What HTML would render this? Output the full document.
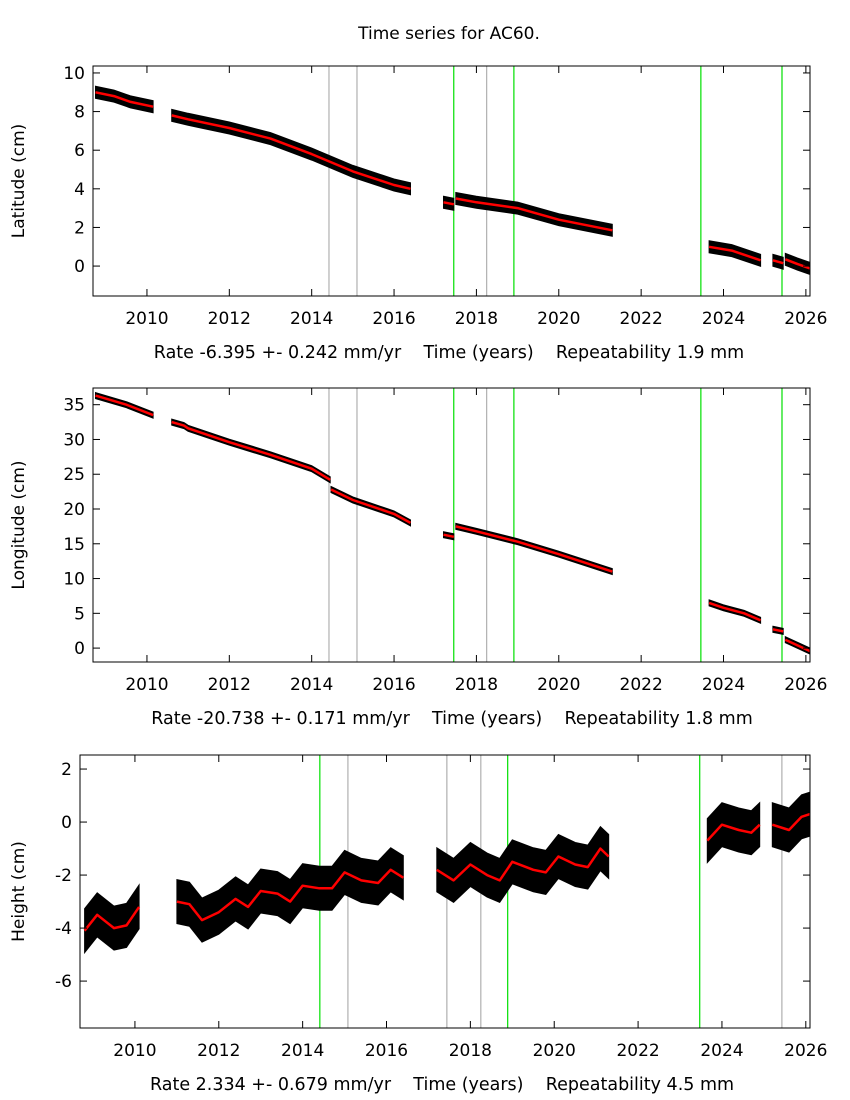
<!DOCTYPE html>
<html><head><meta charset="utf-8"><style>
body{margin:0;background:#fff;}
svg{display:block;font-family:"DejaVu Sans","Liberation Sans",sans-serif;}
</style></head><body>
<svg id="chart" width="850" height="1100" viewBox="0 0 850 1100" xmlns="http://www.w3.org/2000/svg">
<text x="449" y="39" font-size="17" text-anchor="middle">Time series for AC60.</text>
</svg>
<script>
const xTicks=[2010,2012,2014,2016,2018,2020,2022,2024,2026];
const latTicks=[0,2,4,6,8,10];
const lonTicks=[0,5,10,15,20,25,30,35];
const hgtTicks=[-6,-4,-2,0,2];
const latGray=[2014.42,2015.1,2018.25];
const latGreen=[2017.45,2018.91,2023.45,2025.42];
const hgtGray=[2015.08,2017.44,2018.25,2025.43];
const hgtGreen=[2014.41,2018.89,2023.47];
const latSeries=[
 [[2008.75,9.0],[2009.2,8.8],[2009.6,8.5],[2010.15,8.25]],
 [[2010.6,7.8],[2011,7.6],[2012,7.15],[2013,6.6],[2014,5.8],[2015,4.9],[2016,4.2],[2016.4,4.0]],
 [[2017.2,3.3],[2017.45,3.2]],
 [[2017.5,3.5],[2018,3.3],[2019,3.0],[2020,2.4],[2021.3,1.85]],
 [[2023.65,1.0],[2024.2,0.8],[2024.9,0.3]],
 [[2025.2,0.3],[2025.45,0.15]],
 [[2025.5,0.35],[2025.8,0.1],[2026.2,-0.2]]
];
const lonSeries=[
 [[2008.75,36.3],[2009.5,35.0],[2010.15,33.5]],
 [[2010.6,32.5],[2010.9,32.0],[2011,31.6],[2012,29.6],[2013,27.8],[2014,25.8],[2014.45,24.2]],
 [[2014.47,22.8],[2015,21.3],[2016,19.3],[2016.4,18.0]],
 [[2017.2,16.3],[2017.45,16.0]],
 [[2017.5,17.5],[2018,16.8],[2019,15.3],[2020,13.5],[2021.3,11.0]],
 [[2023.65,6.5],[2024,5.8],[2024.5,5.0],[2024.9,4.0]],
 [[2025.2,2.7],[2025.45,2.4]],
 [[2025.5,1.2],[2026.2,-0.7]]
];
const hgtSeries=[
 [[2008.8,-4.1],[2009.1,-3.5],[2009.5,-4.0],[2009.8,-3.9],[2010.1,-3.2]],
 [[2011,-3.0],[2011.3,-3.1],[2011.6,-3.7],[2012,-3.4],[2012.4,-2.9],[2012.7,-3.2],[2013,-2.6],[2013.4,-2.7],[2013.7,-3.0],[2014,-2.4],[2014.4,-2.5],[2014.7,-2.5],[2015,-1.9],[2015.4,-2.2],[2015.8,-2.3],[2016.1,-1.8],[2016.4,-2.1]],
 [[2017.2,-1.8],[2017.6,-2.2],[2018,-1.6],[2018.4,-2.0],[2018.7,-2.2],[2019,-1.5],[2019.5,-1.8],[2019.8,-1.9],[2020.1,-1.3],[2020.5,-1.6],[2020.8,-1.7],[2021.1,-1.0],[2021.3,-1.3]],
 [[2023.65,-0.7],[2024,-0.1],[2024.4,-0.3],[2024.7,-0.4],[2024.9,-0.1]],
 [[2025.2,-0.1],[2025.6,-0.3],[2025.9,0.2],[2026.1,0.3],[2026.2,0.2]]
];
const NS="http://www.w3.org/2000/svg";
const svg=document.getElementById('chart');
function el(t,a,p){const e=document.createElementNS(NS,t);for(const k in a)e.setAttribute(k,a[k]);(p||svg).appendChild(e);return e;}
function panel(o){
 const g=el('g',{});
 
 
 const X=v=>o.x0+(v-o.xmin)/(o.xmax-o.xmin)*(o.x1-o.x0);
 const Y=v=>o.y1-(v-o.ymin)/(o.ymax-o.ymin)*(o.y1-o.y0);
 const cid='clip-'+o.name;
 const cp=el('clipPath',{id:cid},g);el('rect',{x:o.x0,y:o.y0,width:o.x1-o.x0,height:o.y1-o.y0},cp);
 const dg=el('g',{'clip-path':'url(#'+cid+')'},g);
 o.gray.forEach(v=>{const l=el('line',{x1:X(v),x2:X(v),y1:o.y0,y2:o.y1,stroke:'#a0a0a0','stroke-width':1},dg);
  });
 o.green.forEach(v=>{const l=el('line',{x1:X(v),x2:X(v),y1:o.y0,y2:o.y1,stroke:'#00e000','stroke-width':1.2},dg);
  });
 o.series.forEach(s=>{
  const up=s.map(p=>X(p[0]).toFixed(1)+','+(Y(p[1])-o.band).toFixed(1));
  const lo=s.map(p=>X(p[0]).toFixed(1)+','+(Y(p[1])+o.band).toFixed(1)).reverse();
  const b=el('polygon',{points:up.concat(lo).join(' '),fill:'#000',stroke:'#000','stroke-width':1},dg);
  });
 o.series.forEach(s=>{const pts=s.map(p=>X(p[0]).toFixed(1)+','+Y(p[1]).toFixed(1)).join(' ');
  const r=el('polyline',{points:pts,fill:'none',stroke:'#ff0000','stroke-width':2.5,'stroke-linejoin':'round'},dg);
  });
 el('rect',{x:o.x0,y:o.y0,width:o.x1-o.x0,height:o.y1-o.y0,fill:'none',stroke:'#000','stroke-width':1},g);
 xTicks.forEach(t=>{const x=X(t);
  el('line',{x1:x,x2:x,y1:o.y1,y2:o.y1-7,stroke:'#000'},g);el('line',{x1:x,x2:x,y1:o.y0,y2:o.y0+7,stroke:'#000'},g);
  const tx=el('text',{x:x,y:o.y1+28,'font-size':17,'text-anchor':'middle'},g);tx.textContent=t;
  });
 o.yTicks.forEach(t=>{const y=Y(t);
  el('line',{x1:o.x0,x2:o.x0+7,y1:y,y2:y,stroke:'#000'},g);el('line',{x1:o.x1,x2:o.x1-7,y1:y,y2:y,stroke:'#000'},g);
  const tx=el('text',{x:o.x0-8,y:y+6,'font-size':17,'text-anchor':'end'},g);tx.textContent=t;
  });
 const yt=el('text',{x:0,y:0,'font-size':17,'text-anchor':'middle',transform:`translate(${o.ylx},${(o.y0+o.y1)/2}) rotate(-90)`},g);
 yt.textContent=o.ylabel;
 const xt=el('text',{x:o.xlx,y:o.y1+62,'font-size':17.5,'text-anchor':'middle',style:'white-space:pre'},g);
 xt.textContent=o.xlabel;
}
panel({name:'latitude',x0:93,x1:810,y0:66,y1:296,xmin:2008.69,xmax:2026.1,ymin:-1.55,ymax:10.36,yTicks:latTicks,gray:latGray,green:latGreen,series:latSeries,band:6,ylabel:'Latitude (cm)',ylx:24,xlabel:'Rate -6.395 +- 0.242 mm/yr    Time (years)    Repeatability 1.9 mm',xlx:449});
panel({name:'longitude',x0:93,x1:810,y0:388,y1:662,xmin:2008.69,xmax:2026.1,ymin:-2.0,ymax:37.4,yTicks:lonTicks,gray:latGray,green:latGreen,series:lonSeries,band:3,ylabel:'Longitude (cm)',ylx:24,xlabel:'Rate -20.738 +- 0.171 mm/yr    Time (years)    Repeatability 1.8 mm',xlx:452});
panel({name:'height',x0:80,x1:810,y0:755,y1:1028,xmin:2008.69,xmax:2026.1,ymin:-7.77,ymax:2.53,yTicks:hgtTicks,gray:hgtGray,green:hgtGreen,series:hgtSeries,band:22,ylabel:'Height (cm)',ylx:24,xlabel:'Rate 2.334 +- 0.679 mm/yr    Time (years)    Repeatability 4.5 mm',xlx:442});
</script>
</body></html>
